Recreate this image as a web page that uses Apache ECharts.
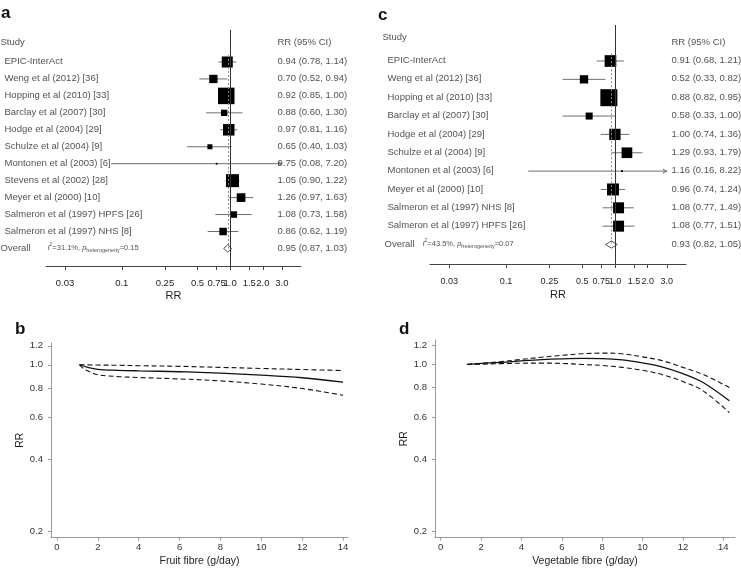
<!DOCTYPE html>
<html><head><meta charset="utf-8">
<script src="https://cdn.jsdelivr.net/npm/echarts@6/dist/echarts.min.js"></script>
<style>html,body{margin:0;padding:0;background:#fff}#c{width:741px;height:568px}</style>
</head><body><div id="c"></div>
<script>
// ---------- DATA ----------
// Panel a: fruit fibre forest plot
const studiesA = ['EPIC-InterAct','Weng et al (2012) [36]','Hopping et al (2010) [33]','Barclay et al (2007) [30]','Hodge et al (2004) [29]','Schulze et al (2004) [9]','Montonen et al (2003) [6]','Stevens et al (2002) [28]','Meyer et al (2000) [10]','Salmeron et al (1997) HPFS [26]','Salmeron et al (1997) NHS [8]'];
const rrA = [0.94,0.70,0.92,0.88,0.97,0.65,0.75,1.05,1.26,1.08,0.86];
const loA = [0.78,0.52,0.85,0.60,0.81,0.40,0.08,0.90,0.97,0.73,0.62];
const hiA = [1.14,0.94,1.00,1.30,1.16,1.03,7.20,1.22,1.63,1.58,1.19];
const weightA = [12.1,6.9,27.1,4.0,13.2,2.5,0.3,16.8,7.5,4.2,5.6];
const overallA = [0.95,0.87,1.03];
const hetA = ['31.1%','0.15'];
// Panel c: vegetable fibre forest plot
const studiesC = ['EPIC-InterAct','Weng et al (2012) [36]','Hopping et al (2010) [33]','Barclay et al (2007) [30]','Hodge et al (2004) [29]','Schulze et al (2004) [9]','Montonen et al (2003) [6]','Meyer et al (2000) [10]','Salmeron et al (1997) NHS [8]','Salmeron et al (1997) HPFS [26]'];
const rrC = [0.91,0.52,0.88,0.58,1.00,1.29,1.16,0.96,1.08,1.08];
const loC = [0.68,0.33,0.82,0.33,0.74,0.93,0.16,0.74,0.77,0.77];
const hiC = [1.21,0.82,0.95,1.00,1.36,1.79,8.22,1.24,1.49,1.51];
const weightC = [11.6,5.9,24.6,4.2,10.9,9.7,0.3,12.2,10.3,10.3];
const overallC = [0.93,0.82,1.05];
const hetC = ['43.5%','0.07'];
// forest axis ticks
const forestTicks = [0.03,0.1,0.25,0.5,0.75,1.0,1.5,2.0,3.0];
const forestTickLabels = ['0.03','0.1','0.25','0.5','0.75','1.0','1.5','2.0','3.0'];
// Panel b: fruit fibre dose-response
const fruitX   = [1.1,1.5,2,3,4,6,8,10,12,14];
const fruitRR  = [1.0,0.975,0.957,0.948,0.943,0.935,0.922,0.905,0.882,0.845];
const fruitXLo = [1.1,1.3,1.6,2,3,4,6,8,10,12,14];
const fruitLo  = [1.0,0.965,0.935,0.908,0.892,0.884,0.872,0.856,0.83,0.795,0.745];
const fruitHi  = [1.0,0.999,0.997,0.995,0.991,0.985,0.975,0.965,0.955,0.946];
// Panel d: vegetable fibre dose-response
const vegX  = [1.3,2,3,4,5,6,7,8,9,10,11,12,13,14.3];
const vegRR = [1.0,1.01,1.02,1.035,1.048,1.056,1.06,1.058,1.045,1.015,0.975,0.915,0.84,0.704];
const vegLo = [1.0,1.003,1.008,1.012,1.013,1.01,1.0,0.99,0.972,0.945,0.905,0.848,0.775,0.628];
const vegHi = [1.0,1.01,1.028,1.05,1.072,1.092,1.108,1.116,1.108,1.076,1.036,0.972,0.908,0.80];
const rrTicks = [0.2,0.4,0.6,0.8,1.0,1.2];
const rrTickLabels = ['0.2','0.4','0.6','0.8','1.0','1.2'];
const fibreTicks = [0,2,4,6,8,10,12,14];

// ---------- CHART ----------
const FONT = '"Liberation Sans", Arial, Helvetica, sans-serif';
const TXT = '#1e1e1e';
const ln = Math.log;
const chart = echarts.init(document.getElementById('c'));

function labelFor(v, ticks, labels) {
  for (let i = 0; i < ticks.length; i++) if (Math.abs(ln(ticks[i]) - v) < 1e-6) return labels[i];
  return '';
}
const fmtCI = (r, l, h) => r.toFixed(2) + ' (' + l.toFixed(2) + ', ' + h.toFixed(2) + ')';

function forestXAxis(gridIndex, margin, nameGap, fs) {
  const cv = forestTicks.map(ln);
  return {
    type: 'value', gridIndex, min: ln(0.02), max: ln(4.5),
    axisLine: {show: true, onZero: false, lineStyle: {color: '#444', width: 1}},
    axisTick: {show: true, length: 4, customValues: cv, lineStyle: {color: '#444', width: 1}},
    axisLabel: {show: true, customValues: cv, margin, fontSize: fs, color: TXT, fontFamily: FONT,
      formatter: v => labelFor(v, forestTicks, forestTickLabels)},
    splitLine: {show: false},
    name: 'RR', nameLocation: 'middle', nameGap,
    nameTextStyle: {fontSize: 11, color: TXT, fontFamily: FONT}
  };
}
function hiddenAxis(gridIndex, min, max, inverse) {
  return {type: 'value', gridIndex, min, max, inverse: !!inverse, show: false,
    axisLine: {show: false, onZero: false}, splitLine: {show: false}};
}
function doseXAxis(gridIndex, min, max, name, nameGap) {
  return {
    type: 'value', gridIndex, min, max,
    axisLine: {show: true, onZero: false, lineStyle: {color: '#9a9a9a', width: 1}},
    axisTick: {show: true, length: 3, customValues: fibreTicks, lineStyle: {color: '#9a9a9a'}},
    axisLabel: {show: true, customValues: fibreTicks, margin: 5, fontSize: 9.5, color: '#333', fontFamily: FONT},
    splitLine: {show: false},
    name, nameLocation: 'middle', nameGap,
    nameTextStyle: {fontSize: 10.5, color: TXT, fontFamily: FONT}
  };
}
function doseYAxis(gridIndex, min, max, nameGap) {
  const cv = rrTicks.map(ln);
  return {
    type: 'value', gridIndex, min, max,
    axisLine: {show: true, onZero: false, lineStyle: {color: '#9a9a9a', width: 1}},
    axisTick: {show: true, length: 3, customValues: cv, lineStyle: {color: '#9a9a9a'}},
    axisLabel: {show: true, customValues: cv, margin: 8, fontSize: 9.5, color: '#333', fontFamily: FONT,
      formatter: v => labelFor(v, rrTicks, rrTickLabels)},
    splitLine: {show: false},
    name: 'RR', nameLocation: 'middle', nameGap, nameRotate: 90,
    nameTextStyle: {fontSize: 10.5, color: TXT, fontFamily: FONT}
  };
}

function studyRender(maxSide, wMax, clipLn) {
  return function (params, api) {
    const row = api.value(0), r = api.value(1), lo = api.value(2), hi = api.value(3), w = api.value(4);
    const pLo = api.coord([lo, row]);
    const pHi = api.coord([Math.min(hi, clipLn), row]);
    const pC = api.coord([r, row]);
    const s = maxSide * Math.sqrt(w / wMax);
    const col = '#6e6e6e';
    const children = [{type: 'line', shape: {x1: pLo[0], y1: pLo[1], x2: pHi[0], y2: pHi[1]}, style: {stroke: col, lineWidth: 1}}];
    if (hi > clipLn) {
      children.push({type: 'polyline', shape: {points: [[pHi[0] - 4, pHi[1] - 2], [pHi[0], pHi[1]], [pHi[0] - 4, pHi[1] + 2]]}, style: {stroke: col, lineWidth: 1, fill: null}});
    }
    children.push({type: 'rect', shape: {x: pC[0] - s / 2, y: pC[1] - s / 2, width: s, height: s}, style: {fill: '#000'}});
    return {type: 'group', children};
  };
}
function diamondRender(params, api) {
  const row = api.value(0);
  const c = api.coord([api.value(1), row]), l = api.coord([api.value(2), row]), h = api.coord([api.value(3), row]);
  const hh = 3.6;
  return {type: 'polygon', shape: {points: [[l[0], l[1]], [c[0], c[1] - hh], [h[0], h[1]], [c[0], c[1] + hh]]},
    style: {fill: '#fff', stroke: '#444', lineWidth: 0.9}};
}

const textLabel = {show: true, position: [0, 0], align: 'left', verticalAlign: 'middle',
  fontSize: 9.5, color: TXT, fontFamily: FONT, formatter: p => p.name};
function textSeries(xi, yi, items, extraLabel) {
  return {type: 'scatter', xAxisIndex: xi, yAxisIndex: yi, symbolSize: 1, clip: false, silent: true,
    itemStyle: {color: 'rgba(0,0,0,0)'}, label: Object.assign({}, textLabel, extraLabel || {}),
    data: items.map(t => ({value: [t[0], t[1]], name: t[2]})), z: 5};
}
const hetRich = {
  n: {fontSize: 7.5, color: TXT, fontFamily: FONT, lineHeight: 11},
  it: {fontSize: 7.5, color: TXT, fontFamily: FONT, fontStyle: 'italic', lineHeight: 11},
  sup: {fontSize: 5, color: TXT, fontFamily: FONT, lineHeight: 6, verticalAlign: 'top'},
  sub: {fontSize: 5.5, color: TXT, fontFamily: FONT, lineHeight: 6, verticalAlign: 'bottom'}
};
const hetText = h => '{it|I}{sup|2}{n|=' + h[0] + ', }{it|p}{sub|heterogeneity}{n|=' + h[1] + '}';

function forestPanel(cfg) {
  const {studies, rr, lo, hi, w, overall, het, gPlot, gText, nameX, headX, ovX, hetX, ciX, studyHeadRow, ciHeadRow, maxSide} = cfg;
  const n = studies.length;
  const rows = studies.map((_, i) => i);
  const series = [];
  series.push({
    type: 'scatter', xAxisIndex: gPlot, yAxisIndex: gPlot, symbolSize: 0, silent: true, z: 1,
    data: [[ln(overall[0]), n]],
    markLine: {silent: true, symbol: 'none', label: {show: false}, animation: false,
      data: [
        {xAxis: 0, lineStyle: {color: '#333', width: 1, type: 'solid'}},
        [{coord: [ln(overall[0]), -0.42]}, {coord: [ln(overall[0]), n]}]
      ],
      lineStyle: {color: '#8a8a8a', width: 1, type: [2, 2]}}
  });
  series.push({
    type: 'custom', xAxisIndex: gPlot, yAxisIndex: gPlot, z: 3, clip: false,
    dimensions: ['row', 'rr', 'lo', 'hi', 'w'], encode: {x: [1, 2, 3], y: 0},
    renderItem: studyRender(maxSide, Math.max(...w), ln(3.0)),
    data: rows.map(i => [i, ln(rr[i]), ln(lo[i]), ln(hi[i]), w[i]])
  });
  series.push({
    type: 'custom', xAxisIndex: gPlot, yAxisIndex: gPlot, z: 3, clip: false,
    dimensions: ['row', 'rr', 'lo', 'hi'], encode: {x: [1, 2, 3], y: 0},
    renderItem: diamondRender,
    data: [[n, ln(overall[0]), ln(overall[1]), ln(overall[2])]]
  });
  series.push(textSeries(gText, gText, rows.map(i => [nameX, i, studies[i]])));
  series.push(textSeries(gText, gText, rows.map(i => [ciX, i, fmtCI(rr[i], lo[i], hi[i])])));
  series.push(textSeries(gText, gText, [[headX, studyHeadRow, 'Study'], [ciX, ciHeadRow, 'RR (95% CI)'],
    [ovX, n, 'Overall'], [ciX, n, fmtCI(overall[0], overall[1], overall[2])]]));
  series.push(textSeries(gText, gText, [[hetX, n, hetText(het)]], {rich: hetRich}));
  return series;
}

const grids = [
  {left: 46, top: 30, width: 255, height: 236},   // 0 a plot
  {left: 0, top: 30, width: 370, height: 236},    // 1 a text
  {left: 430, top: 25, width: 256, height: 239},  // 2 c plot
  {left: 370, top: 25, width: 371, height: 239},  // 3 c text
  {left: 51, top: 343, width: 297, height: 195},  // 4 b
  {left: 435, top: 340, width: 300, height: 198}  // 5 d
];
const rowSpA = 16.95, rowSpC = 18.35;
const yA = [(30 - 62) / rowSpA, (266 - 62) / rowSpA];
const yC = [(25 - 61) / rowSpC, (264 - 61) / rowSpC];

const xAxes = [
  forestXAxis(0, 12, 24, 9.5),
  hiddenAxis(1, 0, 370),
  forestXAxis(2, 13, 25, 9),
  hiddenAxis(3, 0, 371),
  doseXAxis(4, -0.294, 14.24, 'Fruit fibre (g/day)', 18.5),
  doseXAxis(5, -0.282, 14.58, 'Vegetable fibre (g/day)', 18.5)
];
const yAxes = [
  hiddenAxis(0, yA[0], yA[1], true),
  hiddenAxis(1, yA[0], yA[1], true),
  hiddenAxis(2, yC[0], yC[1], true),
  hiddenAxis(3, yC[0], yC[1], true),
  doseYAxis(4, -1.667, 0.21, 22),
  doseYAxis(5, -1.671, 0.236, 24)
];

let series = [];
series = series.concat(forestPanel({studies: studiesA, rr: rrA, lo: loA, hi: hiA, w: weightA, overall: overallA, het: hetA,
  gPlot: 0, gText: 1, nameX: 5, headX: 1, ovX: 1, hetX: 48, ciX: 278, studyHeadRow: -1.12, ciHeadRow: -1.12, maxSide: 16.5}));
series = series.concat(forestPanel({studies: studiesC, rr: rrC, lo: loC, hi: hiC, w: weightC, overall: overallC, het: hetC,
  gPlot: 2, gText: 3, nameX: 18, headX: 13, ovX: 15, hetX: 53, ciX: 302, studyHeadRow: -1.24, ciHeadRow: -1.0, maxSide: 17}));

function curve(gi, xs, ys, dashed) {
  return {type: 'line', xAxisIndex: gi, yAxisIndex: gi, symbol: 'none', smooth: 0.35, silent: true,
    lineStyle: {color: '#111', width: dashed ? 1.1 : 1.3, type: dashed ? [5, 3] : 'solid'},
    data: xs.map((x, i) => [x, ln(ys[i])])};
}
series.push(curve(4, fruitX, fruitRR, false));
series.push(curve(4, fruitXLo, fruitLo, true));
series.push(curve(4, fruitX, fruitHi, true));
series.push(curve(5, vegX, vegRR, false));
series.push(curve(5, vegX, vegLo, true));
series.push(curve(5, vegX, vegHi, true));

const titleStyle = {fontSize: 17, fontWeight: 'bold', color: '#111', fontFamily: FONT};
chart.setOption({
  animation: false,
  backgroundColor: '#fff',
  textStyle: {fontFamily: FONT},
  title: [
    {text: 'a', left: 1, top: 5, textStyle: titleStyle, padding: 0},
    {text: 'c', left: 378, top: 7, textStyle: titleStyle, padding: 0},
    {text: 'b', left: 15, top: 321, textStyle: titleStyle, padding: 0},
    {text: 'd', left: 399, top: 321, textStyle: titleStyle, padding: 0}
  ],
  grid: grids,
  xAxis: xAxes,
  yAxis: yAxes,
  series
});
</script>
</body></html>
